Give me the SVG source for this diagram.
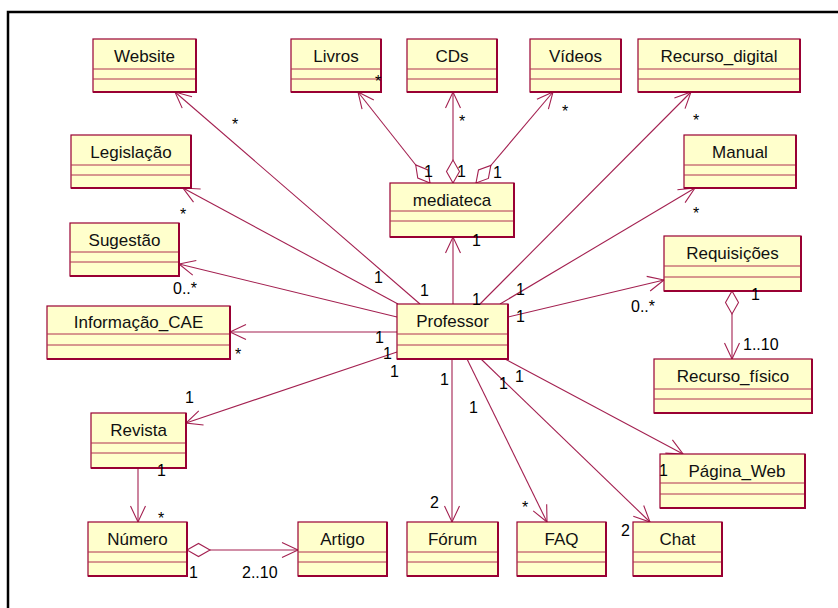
<svg xmlns="http://www.w3.org/2000/svg" width="838" height="608" viewBox="0 0 838 608">
  <style>
    .box { fill: #FFFFCC; stroke: #990033; stroke-width: 1.2; }
    .edge { fill: none; stroke: #990033; stroke-width: 2; }
    .div { stroke: #B03050; stroke-width: 1; }
    .name { font-family: "Liberation Sans", Arial, sans-serif; font-size: 17px; fill: #111; text-anchor: middle; }
    .mult { font-family: "Liberation Sans", Arial, sans-serif; font-size: 16px; fill: #000; }
    .assoc { fill: none; stroke: #A32050; stroke-width: 1.1; }
    .nav { marker-end: url(#open); }
    .agg { marker-start: url(#diamond); }
  </style>
  <defs>
    <marker id="open" markerUnits="userSpaceOnUse" markerWidth="20" markerHeight="20" viewBox="-18 -10 20 20" refX="0" refY="0" orient="auto">
      <path d="M-16,-7.5 L0,0 L-16,7.5" fill="none" stroke="#A32050" stroke-width="1.1"/>
    </marker>
    <marker id="diamond" markerUnits="userSpaceOnUse" markerWidth="26" markerHeight="16" viewBox="-1 -8 26 16" refX="0" refY="0" orient="auto">
      <path d="M0,0 L11.5,-6.5 L23,0 L11.5,6.5 Z" fill="#FFFFFF" stroke="#A32050" stroke-width="1.1"/>
    </marker>
  </defs>

  <rect x="0" y="0" width="838" height="608" fill="#FFFFFF"/>
  <!-- outer frame -->
  <path d="M8,608 V12 H838" fill="none" stroke="#000" stroke-width="2.5"/>

  <!-- associations -->
  <g id="connectors">
    <line class="assoc nav" x1="420" y1="304" x2="175" y2="92"/>
    <line class="assoc nav" x1="398" y1="304" x2="183" y2="188"/>
    <line class="assoc nav" x1="397" y1="317" x2="179" y2="264"/>
    <line class="assoc nav" x1="397" y1="332" x2="230" y2="332"/>
    <line class="assoc nav" x1="397" y1="352" x2="186" y2="423"/>
    <line class="assoc nav" x1="453" y1="304" x2="453" y2="237"/>
    <line class="assoc nav" x1="480" y1="304" x2="691" y2="92"/>
    <line class="assoc nav" x1="500" y1="304" x2="695" y2="188"/>
    <line class="assoc nav" x1="508" y1="317" x2="664" y2="280"/>
    <line class="assoc nav" x1="505" y1="359" x2="683" y2="454"/>
    <line class="assoc nav" x1="481" y1="359" x2="650" y2="522"/>
    <line class="assoc nav" x1="467" y1="359" x2="547" y2="522"/>
    <line class="assoc nav" x1="452" y1="359" x2="452" y2="522"/>
    <line class="assoc nav agg" x1="430" y1="183" x2="358" y2="92"/>
    <line class="assoc nav agg" x1="453" y1="183" x2="453" y2="92"/>
    <line class="assoc nav agg" x1="476" y1="183" x2="553" y2="92"/>
    <line class="assoc nav agg" x1="732" y1="291" x2="732" y2="359"/>
    <line class="assoc nav" x1="138" y1="468" x2="138" y2="522"/>
    <line class="assoc nav agg" x1="187" y1="550" x2="298" y2="550"/>
  </g>

  <!-- classes -->
  <g id="website">
    <rect class="box" x="93" y="39" width="103" height="53"/>
    <line class="div" x1="93" y1="69" x2="196" y2="69"/><line class="div" x1="93" y1="79" x2="196" y2="79"/>
    <path class="edge" d="M196,39 V92 H93"/>
    <text class="name" x="144.5" y="62">Website</text>
  </g>
  <g id="livros">
    <rect class="box" x="291" y="39" width="90" height="53"/>
    <line class="div" x1="291" y1="69" x2="381" y2="69"/><line class="div" x1="291" y1="79" x2="381" y2="79"/>
    <path class="edge" d="M381,39 V92 H291"/>
    <text class="name" x="336" y="62">Livros</text>
  </g>
  <g id="cds">
    <rect class="box" x="407" y="39" width="90" height="53"/>
    <line class="div" x1="407" y1="69" x2="497" y2="69"/><line class="div" x1="407" y1="79" x2="497" y2="79"/>
    <path class="edge" d="M497,39 V92 H407"/>
    <text class="name" x="452" y="62">CDs</text>
  </g>
  <g id="videos">
    <rect class="box" x="530" y="39" width="91" height="53"/>
    <line class="div" x1="530" y1="69" x2="621" y2="69"/><line class="div" x1="530" y1="79" x2="621" y2="79"/>
    <path class="edge" d="M621,39 V92 H530"/>
    <text class="name" x="575.5" y="62">Vídeos</text>
  </g>
  <g id="recurso-digital">
    <rect class="box" x="638" y="39" width="162" height="53"/>
    <line class="div" x1="638" y1="69" x2="800" y2="69"/><line class="div" x1="638" y1="79" x2="800" y2="79"/>
    <path class="edge" d="M800,39 V92 H638"/>
    <text class="name" x="719" y="62">Recurso_digital</text>
  </g>
  <g id="legislacao">
    <rect class="box" x="71" y="135" width="120" height="53"/>
    <line class="div" x1="71" y1="165" x2="191" y2="165"/><line class="div" x1="71" y1="175" x2="191" y2="175"/>
    <path class="edge" d="M191,135 V188 H71"/>
    <text class="name" x="131" y="158">Legislação</text>
  </g>
  <g id="manual">
    <rect class="box" x="684" y="135" width="112" height="53"/>
    <line class="div" x1="684" y1="165" x2="796" y2="165"/><line class="div" x1="684" y1="175" x2="796" y2="175"/>
    <path class="edge" d="M796,135 V188 H684"/>
    <text class="name" x="740" y="158">Manual</text>
  </g>
  <g id="mediateca">
    <rect class="box" x="390" y="183" width="124" height="54"/>
    <line class="div" x1="390" y1="211" x2="514" y2="211"/><line class="div" x1="390" y1="221" x2="514" y2="221"/>
    <path class="edge" d="M514,183 V237 H390"/>
    <text class="name" x="452" y="206">mediateca</text>
  </g>
  <g id="sugestao">
    <rect class="box" x="70" y="223" width="109" height="53"/>
    <line class="div" x1="70" y1="252" x2="179" y2="252"/><line class="div" x1="70" y1="262" x2="179" y2="262"/>
    <path class="edge" d="M179,223 V276 H70"/>
    <text class="name" x="124.5" y="246">Sugestão</text>
  </g>
  <g id="informacao-cae">
    <rect class="box" x="47" y="306" width="183" height="53"/>
    <line class="div" x1="47" y1="334" x2="230" y2="334"/><line class="div" x1="47" y1="345" x2="230" y2="345"/>
    <path class="edge" d="M230,306 V359 H47"/>
    <text class="name" x="138.5" y="328">Informação_CAE</text>
  </g>
  <g id="professor">
    <rect class="box" x="397" y="304" width="111" height="55"/>
    <line class="div" x1="397" y1="334" x2="508" y2="334"/><line class="div" x1="397" y1="345" x2="508" y2="345"/>
    <path class="edge" d="M508,304 V359 H397"/>
    <text class="name" x="452.5" y="327">Professor</text>
  </g>
  <g id="requisicoes">
    <rect class="box" x="664" y="236" width="137" height="55"/>
    <line class="div" x1="664" y1="266" x2="801" y2="266"/><line class="div" x1="664" y1="277" x2="801" y2="277"/>
    <path class="edge" d="M801,236 V291 H664"/>
    <text class="name" x="732.5" y="259">Requisições</text>
  </g>
  <g id="recurso-fisico">
    <rect class="box" x="654" y="359" width="158" height="54"/>
    <line class="div" x1="654" y1="389" x2="812" y2="389"/><line class="div" x1="654" y1="399" x2="812" y2="399"/>
    <path class="edge" d="M812,359 V413 H654"/>
    <text class="name" x="733" y="382">Recurso_físico</text>
  </g>
  <g id="pagina-web">
    <rect class="box" x="660" y="454" width="145" height="54"/>
    <line class="div" x1="660" y1="483" x2="805" y2="483"/><line class="div" x1="660" y1="494" x2="805" y2="494"/>
    <path class="edge" d="M805,454 V508 H660"/>
    <text class="name" x="737" y="477">Página_Web</text>
  </g>
  <g id="revista">
    <rect class="box" x="91" y="413" width="95" height="55"/>
    <line class="div" x1="91" y1="443" x2="186" y2="443"/><line class="div" x1="91" y1="453" x2="186" y2="453"/>
    <path class="edge" d="M186,413 V468 H91"/>
    <text class="name" x="138.5" y="436">Revista</text>
  </g>
  <g id="numero">
    <rect class="box" x="88" y="522" width="99" height="54"/>
    <line class="div" x1="88" y1="552" x2="187" y2="552"/><line class="div" x1="88" y1="562" x2="187" y2="562"/>
    <path class="edge" d="M187,522 V576 H88"/>
    <text class="name" x="137.5" y="545">Número</text>
  </g>
  <g id="artigo">
    <rect class="box" x="298" y="522" width="89" height="54"/>
    <line class="div" x1="298" y1="552" x2="387" y2="552"/><line class="div" x1="298" y1="562" x2="387" y2="562"/>
    <path class="edge" d="M387,522 V576 H298"/>
    <text class="name" x="342.5" y="545">Artigo</text>
  </g>
  <g id="forum">
    <rect class="box" x="407" y="522" width="91" height="54"/>
    <line class="div" x1="407" y1="552" x2="498" y2="552"/><line class="div" x1="407" y1="562" x2="498" y2="562"/>
    <path class="edge" d="M498,522 V576 H407"/>
    <text class="name" x="452.5" y="545">Fórum</text>
  </g>
  <g id="faq">
    <rect class="box" x="517" y="522" width="89" height="54"/>
    <line class="div" x1="517" y1="552" x2="606" y2="552"/><line class="div" x1="517" y1="562" x2="606" y2="562"/>
    <path class="edge" d="M606,522 V576 H517"/>
    <text class="name" x="561.5" y="545">FAQ</text>
  </g>
  <g id="chat">
    <rect class="box" x="633" y="522" width="89" height="54"/>
    <line class="div" x1="633" y1="552" x2="722" y2="552"/><line class="div" x1="633" y1="562" x2="722" y2="562"/>
    <path class="edge" d="M722,522 V576 H633"/>
    <text class="name" x="677.5" y="545">Chat</text>
  </g>

  <!-- multiplicities -->
  <g id="multiplicities" class="mult">
    <text x="232" y="130">*</text>
    <text x="375" y="87">*</text>
    <text x="459" y="127">*</text>
    <text x="562" y="117">*</text>
    <text x="693" y="126">*</text>
    <text x="693" y="219">*</text>
    <text x="180" y="220">*</text>
    <text x="424" y="177">1</text>
    <text x="457" y="177">1</text>
    <text x="493" y="178">1</text>
    <text x="472" y="246">1</text>
    <text x="374" y="283">1</text>
    <text x="420" y="296">1</text>
    <text x="472" y="305">1</text>
    <text x="516" y="295">1</text>
    <text x="516" y="322">1</text>
    <text x="173" y="294">0..*</text>
    <text x="235" y="360">*</text>
    <text x="375" y="343">1</text>
    <text x="383" y="359">1</text>
    <text x="390" y="377">1</text>
    <text x="185" y="403">1</text>
    <text x="631" y="312">0..*</text>
    <text x="751" y="300">1</text>
    <text x="743" y="350">1..10</text>
    <text x="440" y="385">1</text>
    <text x="515" y="382">1</text>
    <text x="499" y="389">1</text>
    <text x="469" y="413">1</text>
    <text x="430" y="508">2</text>
    <text x="522" y="513">*</text>
    <text x="621" y="536">2</text>
    <text x="659" y="476">1</text>
    <text x="157" y="476">1</text>
    <text x="158" y="524">*</text>
    <text x="189" y="578">1</text>
    <text x="242" y="578">2..10</text>
  </g>
</svg>
